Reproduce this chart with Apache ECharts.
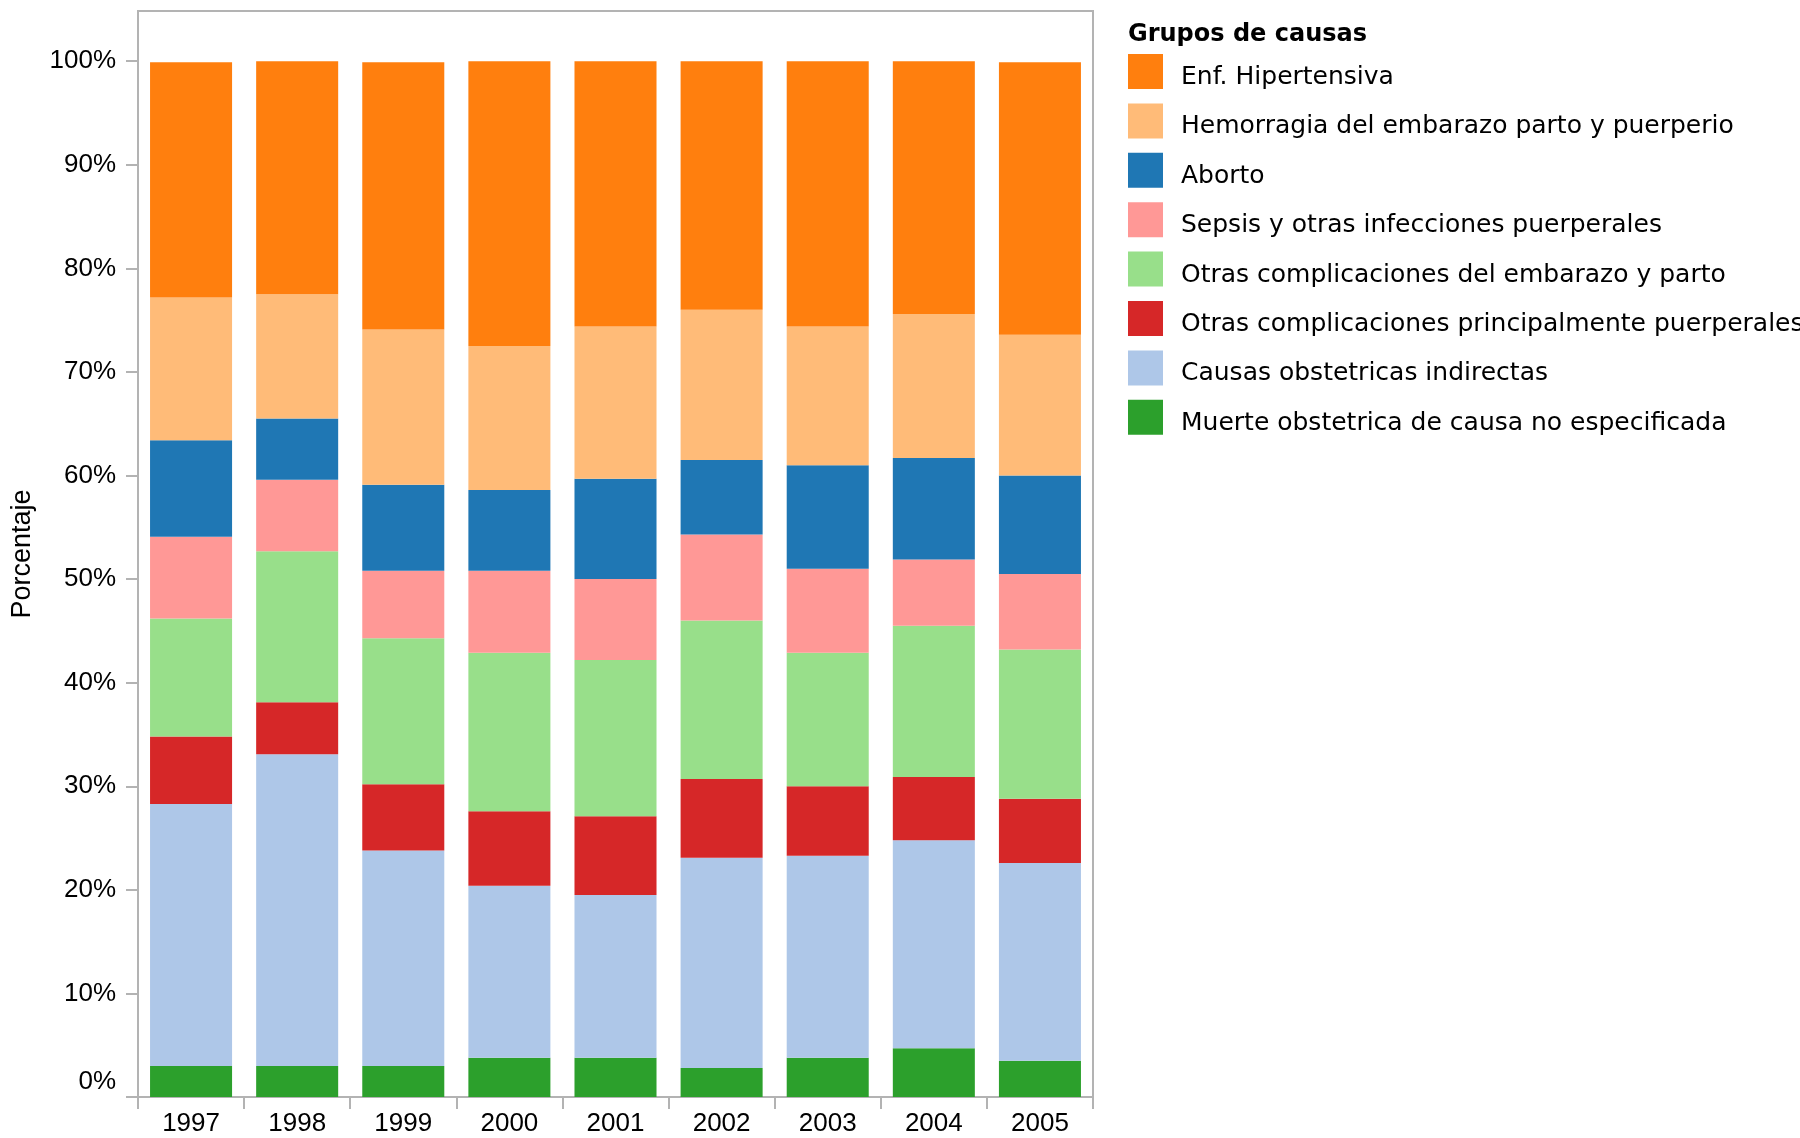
<!DOCTYPE html>
<html>
<head>
<meta charset="utf-8">
<script src="https://cdn.jsdelivr.net/npm/echarts@6/dist/echarts.min.js"></script>
<style>
html,body{margin:0;padding:0;background:#fff;}
#chart{width:1800px;height:1138px;}
</style>
</head>
<body>
<div id="chart"></div>
<script>
// ---- Data (percent of maternal deaths per cause group) ----
const years = ['1997','1998','1999','2000','2001','2002','2003','2004','2005'];

const seriesNames = [
  'Muerte obstetrica de causa no especificada',
  'Causas obstetricas indirectas',
  'Otras complicaciones principalmente puerperales',
  'Otras complicaciones del embarazo y parto',
  'Sepsis y otras infecciones puerperales',
  'Aborto',
  'Hemorragia del embarazo parto y puerperio',
  'Enf. Hipertensiva'
];

const muerteNoEspecificada = [3.0, 3.0, 3.0, 3.8, 3.8, 2.8, 3.8, 4.7, 3.5];
const causasIndirectas     = [25.3, 30.1, 20.8, 16.6, 15.7, 20.3, 19.5, 20.1, 19.1];
const complicPuerperales   = [6.5, 5.0, 6.4, 7.2, 7.6, 7.6, 6.7, 6.1, 6.2];
const complicEmbarazoParto = [11.4, 14.6, 14.1, 15.3, 15.1, 15.3, 12.9, 14.6, 14.4];
const sepsis               = [7.9, 6.9, 6.5, 7.9, 7.8, 8.3, 8.1, 6.4, 7.3];
const aborto               = [9.3, 5.9, 8.3, 7.8, 9.7, 7.2, 10.0, 9.8, 9.5];
const hemorragia           = [13.8, 12.0, 15.0, 13.9, 14.7, 14.5, 13.4, 13.9, 13.6];
const hipertensiva         = [22.7, 22.5, 25.8, 27.5, 25.6, 24.0, 25.6, 24.4, 26.3];

const yTickValues = [0, 10, 20, 30, 40, 50, 60, 70, 80, 90, 100];

const legendOrder = [
  'Enf. Hipertensiva',
  'Hemorragia del embarazo parto y puerperio',
  'Aborto',
  'Sepsis y otras infecciones puerperales',
  'Otras complicaciones del embarazo y parto',
  'Otras complicaciones principalmente puerperales',
  'Causas obstetricas indirectas',
  'Muerte obstetrica de causa no especificada'
];

// ---- Styling ----
const colors = ['#2ca02c', '#aec7e8', '#d62728', '#98df8a', '#ff9896', '#1f77b4', '#ffbb78', '#ff7f0e'];
const seriesData = [muerteNoEspecificada, causasIndirectas, complicPuerperales, complicEmbarazoParto,
                    sepsis, aborto, hemorragia, hipertensiva];

const axisColor = '#b3b3b3';
const axisFont = 'Liberation Sans, Arial, sans-serif';
const legendFont = 'DejaVu Sans, sans-serif';
const yMax = 104.85;

const chart = echarts.init(document.getElementById('chart'), null, {renderer: 'canvas'});

const option = {
  animation: false,
  backgroundColor: '#fff',
  title: {
    text: 'Grupos de causas',
    left: 1128,
    top: 23,
    padding: 0,
    textStyle: {fontFamily: legendFont, fontWeight: 'bold', fontSize: 24, color: '#000'}
  },
  legend: {
    orient: 'vertical',
    left: 1128,
    top: 53,
    padding: 0,
    itemWidth: 35,
    itemHeight: 35,
    itemGap: 12.4,
    icon: 'rect',
    selectedMode: false,
    data: legendOrder,
    formatter: function (name) { return '\n' + name; },
    textStyle: {fontFamily: legendFont, fontSize: 25, color: '#000', lineHeight: 12, padding: [0, 0, 0, 13]}
  },
  grid: {
    left: 138,
    right: 707,
    top: 11,
    bottom: 41,
    show: true,
    borderColor: axisColor,
    borderWidth: 2,
    backgroundColor: 'transparent'
  },
  xAxis: {
    type: 'category',
    data: years,
    axisLine: {show: true, lineStyle: {color: axisColor, width: 2}},
    axisTick: {show: true, alignWithLabel: false, length: 12, lineStyle: {color: axisColor, width: 2}},
    axisLabel: {interval: 0, margin: 14, fontFamily: axisFont, fontSize: 26, color: '#000'},
    splitLine: {show: false}
  },
  yAxis: {
    type: 'value',
    min: 0,
    max: yMax,
    name: 'Porcentaje',
    nameLocation: 'middle',
    nameRotate: 90,
    nameGap: 102,
    nameTextStyle: {fontFamily: axisFont, fontSize: 27, color: '#000'},
    axisLine: {show: true, lineStyle: {color: axisColor, width: 2}},
    axisTick: {show: true, length: 12, customValues: yTickValues, lineStyle: {color: axisColor, width: 2}},
    axisLabel: {
      customValues: yTickValues,
      margin: 22,
      fontFamily: axisFont,
      fontSize: 26,
      color: '#000',
      formatter: function (v) { return v === 0 ? '{z|0%}' : v + '%'; },
      rich: {z: {fontFamily: axisFont, fontSize: 26, color: '#000', padding: [0, 0, 30, 0]}}
    },
    splitLine: {show: false}
  },
  series: seriesNames.map(function (name, i) {
    return {
      name: name,
      type: 'bar',
      stack: 'total',
      barCategoryGap: '22.7%',
      data: seriesData[i],
      itemStyle: {color: colors[i]},
      emphasis: {disabled: true}
    };
  })
};

chart.setOption(option);
</script>
</body>
</html>
